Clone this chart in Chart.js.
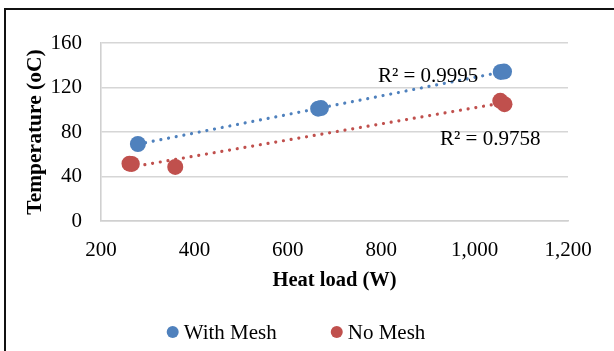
<!DOCTYPE html>
<html>
<head>
<meta charset="utf-8">
<script src="https://cdn.jsdelivr.net/npm/chart.js@4/dist/chart.umd.min.js"></script>
<style>
  html, body { margin: 0; padding: 0; background: #fff; overflow: hidden; }
  #wrap { position: relative; width: 614px; height: 351px; }
  #frame { position: absolute; left: 4px; top: 8px; width: 700px; height: 400px; border: 2px solid #111; }
  #c { position: absolute; left: 0; top: 0; }
</style>
</head>
<body>
<div id="wrap">
  <div id="frame"></div>
  <canvas id="c" width="614" height="351"></canvas>
</div>
<script>
// ---- data ----
const seriesNames = ["With Mesh", "No Mesh"];
const withMeshLoad = [279, 665, 671, 1056, 1063];
const withMeshTemp = [69.2, 101.0, 101.5, 134.0, 134.3];
const noMeshLoad = [261, 266, 359, 1055, 1064];
const noMeshTemp = [51.5, 51.3, 48.6, 108.0, 105.0];
const r2Labels = ["R\u00B2 = 0.9995", "R\u00B2 = 0.9758"];
const r2AnchorLoad = [793, 926];
const r2AnchorTemp = [129.5, 73.5];
const xTicks = [200, 400, 600, 800, 1000, 1200];
const yTicks = [0, 40, 80, 120, 160];
const colors = ["#4F81BD", "#C0504D"];

const serif = "'Times New Roman', 'Liberation Serif', serif";

function toPoints(xs, ys) { return xs.map((x, i) => ({ x: x, y: ys[i] })); }
function linearFit(xs, ys) {
  const n = xs.length;
  const mx = xs.reduce((a, b) => a + b, 0) / n;
  const my = ys.reduce((a, b) => a + b, 0) / n;
  let sxy = 0, sxx = 0;
  for (let i = 0; i < n; i++) { sxy += (xs[i] - mx) * (ys[i] - my); sxx += (xs[i] - mx) ** 2; }
  const m = sxy / sxx, b = my - m * mx;
  const x0 = Math.min(...xs), x1 = Math.max(...xs);
  return [{ x: x0, y: m * x0 + b }, { x: x1, y: m * x1 + b }];
}

const loads = [withMeshLoad, noMeshLoad];
const temps = [withMeshTemp, noMeshTemp];

const datasets = [];
seriesNames.forEach((name, i) => {
  datasets.push({
    label: name,
    data: toPoints(loads[i], temps[i]),
    backgroundColor: colors[i],
    borderColor: colors[i],
    pointRadius: 8,
    pointHoverRadius: 8,
    pointBorderWidth: 0,
    showLine: false,
    order: 1
  });
});
seriesNames.forEach((name, i) => {
  datasets.push({
    label: "trend-" + name,
    data: linearFit(loads[i], temps[i]),
    showLine: true,
    borderColor: colors[i],
    borderWidth: 3.2,
    borderDash: [0.01, 7.8],
    borderCapStyle: 'round',
    pointRadius: 0,
    fill: false,
    order: 2
  });
});

const overlayPlugin = {
  id: 'overlay',
  afterDatasetsDraw(chart) {
    const ctx = chart.ctx;
    const xs = chart.scales.x, ys = chart.scales.y;
    ctx.save();
    // R² annotations
    ctx.font = "21px " + serif;
    ctx.fillStyle = "#000";
    ctx.textAlign = "left";
    ctx.textBaseline = "middle";
    r2Labels.forEach((t, i) => {
      ctx.fillText(t, xs.getPixelForValue(r2AnchorLoad[i]), ys.getPixelForValue(r2AnchorTemp[i]));
    });
    // legend
    const legendY = 332, legendCenterX = 296;
    const r = 6, gap = 5, itemGap = 54;
    const widths = seriesNames.map(n => 2 * r + gap + ctx.measureText(n).width);
    const total = widths.reduce((a, b) => a + b, 0) + itemGap * (seriesNames.length - 1);
    let x = legendCenterX - total / 2;
    seriesNames.forEach((n, i) => {
      ctx.fillStyle = colors[i];
      ctx.beginPath();
      ctx.arc(x + r, legendY, r, 0, Math.PI * 2);
      ctx.fill();
      ctx.fillStyle = "#000";
      ctx.fillText(n, x + 2 * r + gap, legendY + 1);
      x += widths[i] + itemGap;
    });
    ctx.restore();
  }
};

new Chart(document.getElementById('c'), {
  type: 'scatter',
  data: { datasets: datasets },
  options: {
    responsive: false,
    animation: false,
    locale: 'en-US',
    layout: { padding: { top: 43, right: 46, bottom: 0, left: 0 } },
    plugins: { legend: { display: false }, tooltip: { enabled: false } },
    scales: {
      x: {
        type: 'linear',
        min: xTicks[0], max: xTicks[xTicks.length - 1],
        afterBuildTicks(scale) { scale.ticks = xTicks.map(v => ({ value: v })); },
        afterFit(scale) { scale.height = 130; },
        grid: { display: false, drawTicks: false },
        border: { display: true, color: '#D0D0D0', width: 1.6 },
        ticks: {
          padding: 17,
          color: '#000',
          font: { family: serif, size: 21, lineHeight: 1.2 },
          callback: v => v.toLocaleString('en-US')
        },
        title: {
          display: true, text: 'Heat load (W)', color: '#000',
          font: { family: serif, size: 20.5, weight: 'bold', lineHeight: 1.2 },
          padding: { top: 0, bottom: 58 }
        }
      },
      y: {
        type: 'linear',
        min: yTicks[0], max: yTicks[yTicks.length - 1],
        afterBuildTicks(scale) { scale.ticks = yTicks.map(v => ({ value: v })); },
        afterFit(scale) { scale.width = 101; },
        grid: { color: '#D6D6D6', lineWidth: 1.6, drawTicks: false },
        border: { display: true, color: '#D0D0D0', width: 1.6 },
        ticks: {
          padding: 19,
          color: '#000',
          font: { family: serif, size: 21, lineHeight: 1.2 },
          callback: v => v.toLocaleString('en-US')
        },
        title: {
          display: true, text: 'Temperature (oC)', color: '#000',
          font: { family: serif, size: 21.5, weight: 'bold', lineHeight: 1.2 },
          padding: { top: 23, bottom: 0 }
        }
      }
    }
  },
  plugins: [overlayPlugin]
});
</script>
</body>
</html>
